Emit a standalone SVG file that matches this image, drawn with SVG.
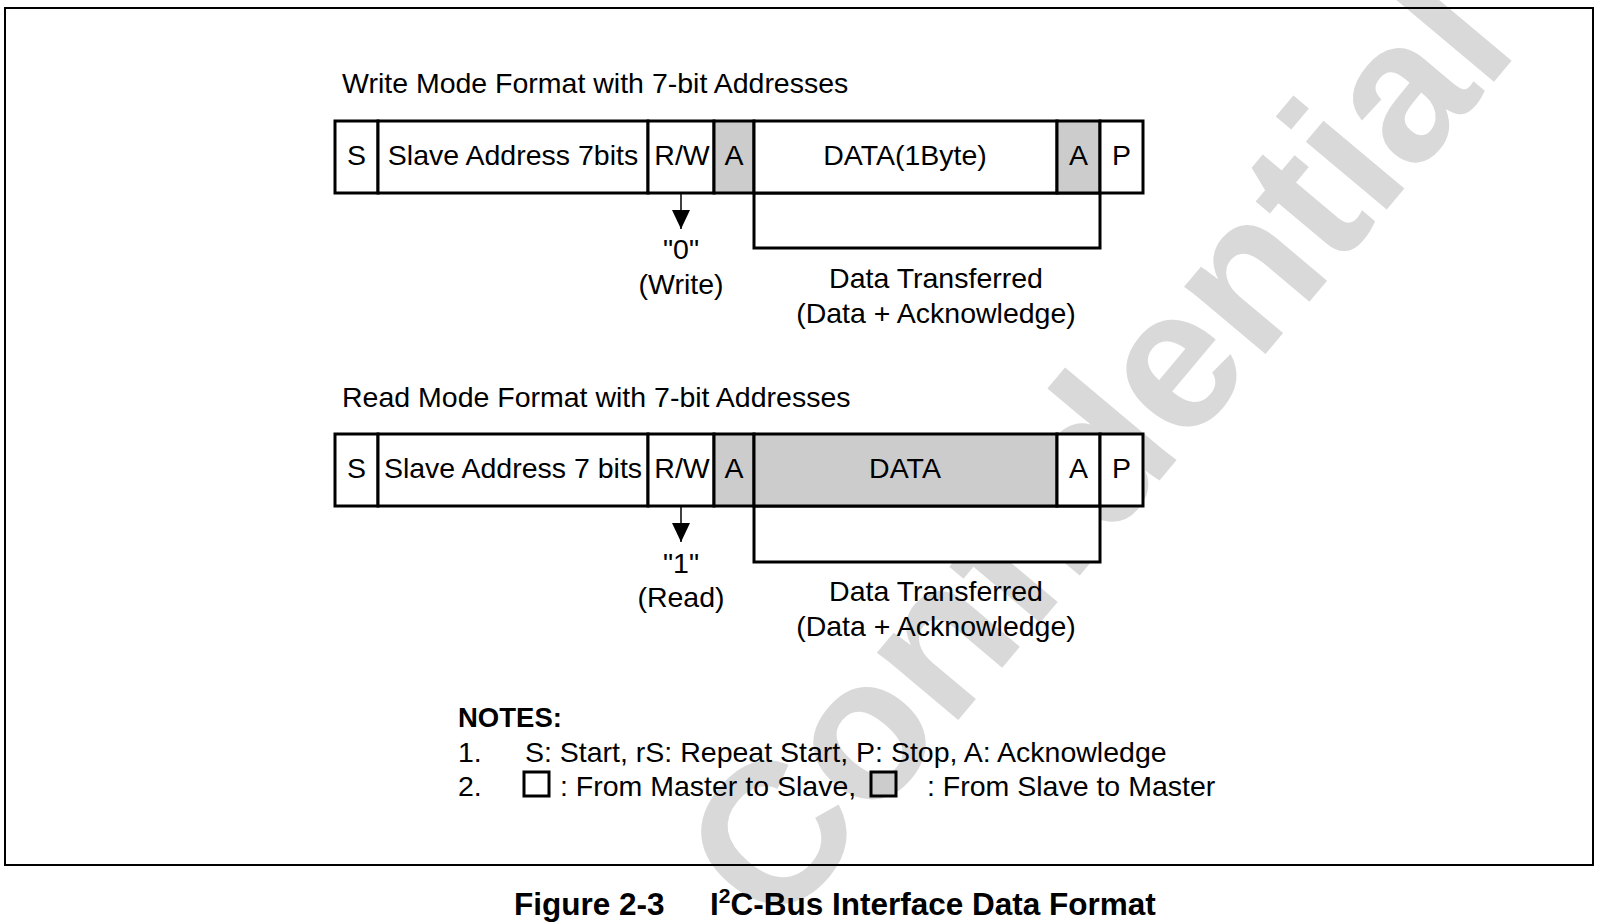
<svg xmlns="http://www.w3.org/2000/svg" width="1604" height="924" viewBox="0 0 1604 924">
<style>
  text { font-family: "Liberation Sans", Arial, Helvetica, sans-serif; fill: #000; }
  .t { font-size: 28.5px; }
  .c { text-anchor: middle; }
  .b { font-weight: bold; }
  .cell { fill: #ffffff; stroke: #000; stroke-width: 3; }
  .gry { fill: #cccccc; }
  .brk { fill: #ffffff; stroke: #000; stroke-width: 3; }
  .ln { stroke: #000; stroke-width: 1.5; fill: none; }
  .frame { fill: none; stroke: #000; stroke-width: 2; }
  .wm { font-size: 200px; font-weight: bold; fill: #d9d9d9; }
</style>
<defs>
  <marker id="arr" markerUnits="userSpaceOnUse" viewBox="0 0 19 18" markerWidth="19" markerHeight="18" refX="19" refY="9" orient="auto">
    <path d="M0,0 L19,9 L0,18 Z" fill="#000"/>
  </marker>
</defs>
<rect x="0" y="0" width="1604" height="924" fill="#ffffff"/>
<text id="watermark" class="wm" transform="translate(778,935) rotate(-50)">Confidential</text>
<rect id="frame" class="frame" x="5" y="8" width="1588" height="857"/>

<g id="connectors">
  <rect class="brk" x="754" y="193" width="346" height="55"/>
  <rect class="brk" x="754" y="506" width="346" height="56"/>
  <line class="ln" x1="681" y1="193" x2="681" y2="229" marker-end="url(#arr)"/>
  <line class="ln" x1="681" y1="506" x2="681" y2="542" marker-end="url(#arr)"/>
</g>

<g id="write-format">
  <text class="t" x="342" y="93">Write Mode Format with 7-bit Addresses</text>
  <g id="w-s"><rect class="cell" x="335" y="121" width="43" height="72"/><text class="t c" x="356.5" y="165">S</text></g>
  <g id="w-addr"><rect class="cell" x="378" y="121" width="270" height="72"/><text class="t c" x="513" y="165">Slave Address 7bits</text></g>
  <g id="w-rw"><rect class="cell" x="648" y="121" width="66" height="72"/><text class="t c" x="682" y="165">R/W</text></g>
  <g id="w-a1"><rect class="cell gry" x="714" y="121" width="40" height="72"/><text class="t c" x="734" y="165">A</text></g>
  <g id="w-data"><rect class="cell" x="754" y="121" width="303" height="72"/><text class="t c" x="905" y="165">DATA(1Byte)</text></g>
  <g id="w-a2"><rect class="cell gry" x="1057" y="121" width="43" height="72"/><text class="t c" x="1078.5" y="165">A</text></g>
  <g id="w-p"><rect class="cell" x="1100" y="121" width="43" height="72"/><text class="t c" x="1121.5" y="165">P</text></g>
  <g id="w-bit"><text class="t c" x="681" y="259">"0"</text><text class="t c" x="681" y="294">(Write)</text></g>
  <g id="w-transfer"><text class="t c" x="936" y="288">Data Transferred</text><text class="t c" x="936" y="323">(Data + Acknowledge)</text></g>
</g>

<g id="read-format">
  <text class="t" x="342" y="407">Read Mode Format with 7-bit Addresses</text>
  <g id="r-s"><rect class="cell" x="335" y="434" width="43" height="72"/><text class="t c" x="356.5" y="478">S</text></g>
  <g id="r-addr"><rect class="cell" x="378" y="434" width="270" height="72"/><text class="t c" x="513" y="478">Slave Address 7 bits</text></g>
  <g id="r-rw"><rect class="cell" x="648" y="434" width="66" height="72"/><text class="t c" x="682" y="478">R/W</text></g>
  <g id="r-a1"><rect class="cell gry" x="714" y="434" width="40" height="72"/><text class="t c" x="734" y="478">A</text></g>
  <g id="r-data"><rect class="cell gry" x="754" y="434" width="303" height="72"/><text class="t c" x="905" y="478">DATA</text></g>
  <g id="r-a2"><rect class="cell" x="1057" y="434" width="43" height="72"/><text class="t c" x="1078.5" y="478">A</text></g>
  <g id="r-p"><rect class="cell" x="1100" y="434" width="43" height="72"/><text class="t c" x="1121.5" y="478">P</text></g>
  <g id="r-bit"><text class="t c" x="681" y="573">"1"</text><text class="t c" x="681" y="607">(Read)</text></g>
  <g id="r-transfer"><text class="t c" x="936" y="601">Data Transferred</text><text class="t c" x="936" y="636">(Data + Acknowledge)</text></g>
</g>

<g id="notes">
  <text class="b" style="font-size:27.5px" x="458" y="727">NOTES:</text>
  <text class="t" x="458" y="762">1.</text>
  <text class="t" x="525" y="762">S: Start, rS: Repeat Start, P: Stop, A: Acknowledge</text>
  <text class="t" x="458" y="796">2.</text>
  <rect class="cell" x="524" y="772" width="25" height="24"/>
  <text class="t" x="560" y="796">: From Master to Slave,</text>
  <rect class="cell gry" x="871" y="772" width="25" height="24"/>
  <text class="t" x="927" y="796">: From Slave to Master</text>
</g>

<g id="caption">
  <text class="b" style="font-size:31.5px" x="514" y="915">Figure 2-3</text>
  <text class="b" style="font-size:31.5px" x="710" y="915">I<tspan style="font-size:21px" dy="-12">2</tspan><tspan dy="12">C-Bus Interface Data Format</tspan></text>
</g>
</svg>
